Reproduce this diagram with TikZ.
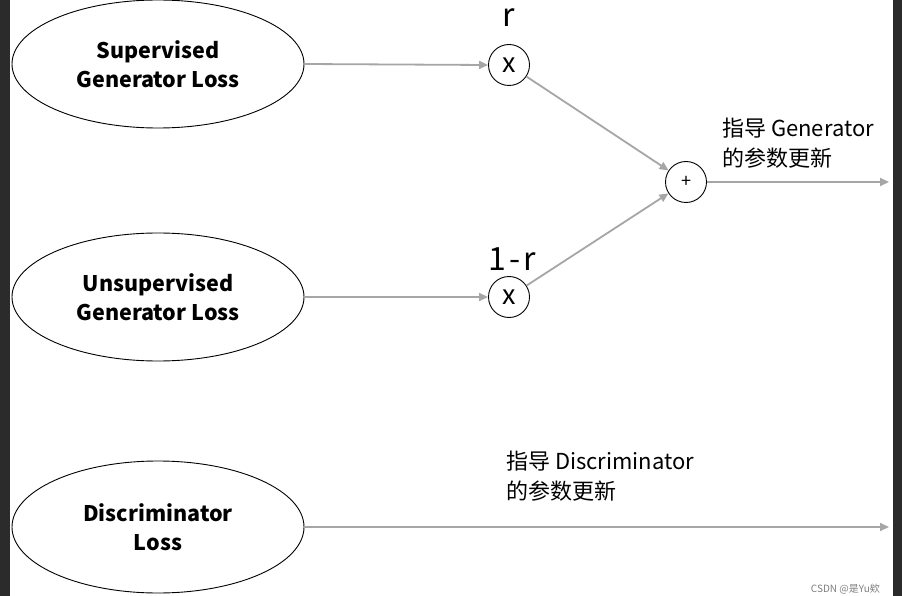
\documentclass[tikz,border=0pt]{standalone}
\usepackage{fontspec}
\setmainfont{Noto Sans CJK SC}
\usetikzlibrary{arrows.meta,shapes.geometric}
\definecolor{linegray}{HTML}{A6A6A6}
\definecolor{edgedark}{HTML}{2B2B2B}
\begin{document}
\begin{tikzpicture}[x=1pt,y=-1pt,
  loss/.style={draw=black,line width=0.9pt,ellipse,minimum width=292pt,minimum height=128pt,inner sep=0pt,align=center,font=\fontsize{21.5}{29}\selectfont\bfseries},
  op/.style={draw=black,line width=0.9pt,circle,minimum size=41pt,inner sep=0pt},
  flow/.style={draw=linegray,line width=1.8pt,-{Triangle[length=9pt,width=8pt]}},
  lbl/.style={align=left,anchor=north west,inner sep=0pt,font=\fontsize{22}{30}\selectfont},
  wt/.style={font=\fontsize{32}{34}\selectfont,inner sep=0pt,anchor=base}]
\useasboundingbox (0,0) rectangle (902,596);
\fill[white] (0,0) rectangle (902,596);
\fill[edgedark] (0,0) rectangle (10,596);
\fill[edgedark] (893,0) rectangle (902,596);
\node[loss] (sup) at (158,64) {Supervised\\Generator Loss};
\node[loss] (uns) at (158,297) {Unsupervised\\Generator Loss};
\node[loss,minimum height=132pt] (dis) at (158,527) {Discriminator\\Loss};
\node[op,font=\fontsize{27}{28}\selectfont] (m1) at (509,65) {x};
\node[op,font=\fontsize{27}{28}\selectfont] (m2) at (509,297) {x};
\node[op,font=\fontsize{18}{20}\selectfont] (add) at (686,182) {+};
\node[wt] (r) at (509,27) {r};
\node[wt] (omr) at (512,270) {1\kern3pt-\kern3pt r};
\coordinate (gout) at (889,182);
\coordinate (dout) at (889,527);
\draw[flow] (sup.east) -- (m1.west);
\draw[flow] (uns.east) -- (m2.west);
\draw[flow] (m1) -- (add);
\draw[flow] (m2) -- (add);
\draw[flow] (add.east) -- (gout);
\draw[flow] (dis.east) -- (dout);
\node[lbl] (gl) at (722,118) {指导 Generator\\的参数更新};
\node[lbl] (dl) at (506,451) {指导 Discriminator\\的参数更新};
\node[font=\fontsize{10}{12}\selectfont,text=gray,anchor=east,inner sep=0pt] (wm) at (880,589) {CSDN @是Yu欸};
\end{tikzpicture}
\end{document}
